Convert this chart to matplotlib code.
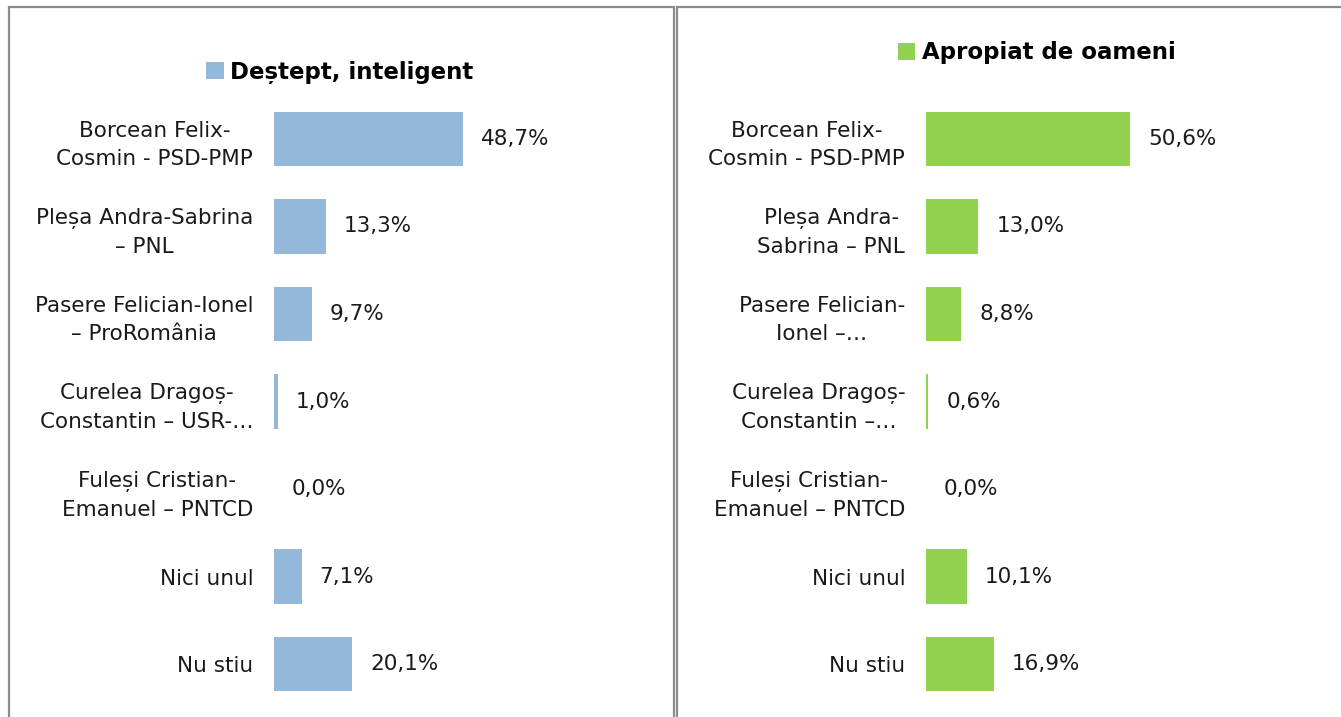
import matplotlib
matplotlib.use("Agg")
import matplotlib.pyplot as plt
from matplotlib.patches import Patch, Rectangle

W, H = 1341, 717
DPI = 100

left_title = "Deștept, inteligent"
right_title = "Apropiat de oameni"

left_labels = [
    "Borcean Felix-\nCosmin - PSD-PMP",
    "Pleșa Andra-Sabrina\n– PNL",
    "Pasere Felician-Ionel\n– ProRomânia",
    "Curelea Dragoș-\nConstantin – USR-…",
    "Fuleși Cristian-\nEmanuel – PNTCD",
    "Nici unul",
    "Nu stiu",
]
left_values = [48.7, 13.3, 9.7, 1.0, 0.0, 7.1, 20.1]

right_labels = [
    "Borcean Felix-\nCosmin - PSD-PMP",
    "Pleșa Andra-\nSabrina – PNL",
    "Pasere Felician-\nIonel –…",
    "Curelea Dragoș-\nConstantin –…",
    "Fuleși Cristian-\nEmanuel – PNTCD",
    "Nici unul",
    "Nu stiu",
]
right_values = [50.6, 13.0, 8.8, 0.6, 0.0, 10.1, 16.9]

BLUE = "#93B8D9"
GREEN = "#92D050"
TXT = "#1a1a1a"

fig = plt.figure(figsize=(W / DPI, H / DPI), dpi=DPI)

def px_axes(x0, y_top, w, h):
    return fig.add_axes([x0 / W, 1 - (y_top + h) / H, w / W, h / H])

# panel borders
for (x0, x1) in [(9, 674), (677, 1345)]:
    fig.patches.append(Rectangle((x0 / W, -0.05), (x1 - x0) / W, (H - 7) / H + 0.05,
                                 transform=fig.transFigure, fill=False,
                                 edgecolor="#8c8c8c", linewidth=1.6))

def panel(x0, pxper, labels, values, color, title, lx, ly):
    width = 330
    ax = px_axes(x0, 95, width, 613)
    n = len(values)
    ypos = list(range(n))
    ax.barh(ypos, values, height=0.62, color=color, edgecolor="none")
    ax.set_xlim(0, width / pxper)
    ax.set_ylim(n - 0.5, -0.5)
    ax.set_yticks(ypos)
    ax.set_yticklabels(labels, fontsize=15.5, color=TXT, multialignment="center",
                       linespacing=1.5)
    ax.tick_params(axis="y", length=0, pad=15)
    ax.set_xticks([])
    for s in ax.spines.values():
        s.set_visible(False)
    ax.patch.set_alpha(0)
    for y, v in zip(ypos, values):
        ax.annotate(f"{v:.1f}%".replace(".", ","), xy=(v, y), xytext=(13, 0),
                    textcoords="offset points", va="center", ha="left",
                    fontsize=15.5, color=TXT)
    fig.legend(handles=[Patch(facecolor=color, edgecolor="none")], labels=[title],
               loc="center", bbox_to_anchor=(lx / W, 1 - ly / H),
               frameon=False, handlelength=0.75, handleheight=0.75, handletextpad=0.3,
               prop={"weight": "bold", "size": 16.5})

panel(274, 3.88, left_labels, left_values, BLUE, left_title, 340, 72)
panel(926, 4.03, right_labels, right_values, GREEN, right_title, 1037, 53)

fig.savefig("out.png", dpi=DPI)
